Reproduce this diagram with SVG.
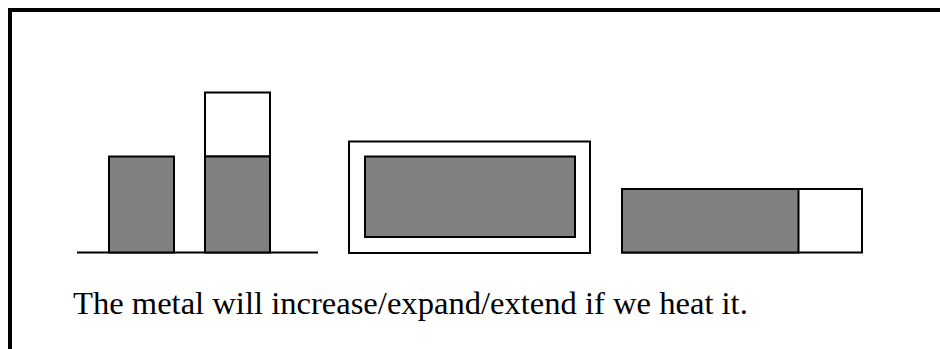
<svg xmlns="http://www.w3.org/2000/svg" width="940" height="349" viewBox="0 0 940 349">
  <style>
    .frame { fill: none; stroke: #000; stroke-width: 4; }
    .edge { stroke: #000; stroke-width: 2; }
    .metal { fill: #808080; stroke: #000; stroke-width: 2; }
    .gap { fill: #fff; stroke: #000; stroke-width: 2; }
    .caption { font-family: "Liberation Serif", "Times New Roman", serif; font-size: 32.6px; fill: #000; }
  </style>
  <rect width="940" height="349" fill="#fff"/>
  <!-- open frame: top and left edges -->
  <path class="frame" d="M10 349 V10 H940"/>

  <!-- ground line under the bars -->
  <g id="connectors">
    <line class="edge" x1="77" y1="252.5" x2="318" y2="252.5"/>
  </g>

  <!-- cold bar -->
  <g id="bar-cold">
    <rect class="metal" x="109" y="156.5" width="65" height="96"/>
  </g>

  <!-- heated bar: same bar plus added length on top -->
  <g id="bar-heated">
    <rect class="gap" x="205" y="92.5" width="65" height="64"/>
    <rect class="metal" x="205" y="156.5" width="65" height="96"/>
  </g>

  <!-- plate expanding in every direction -->
  <g id="plate">
    <rect class="gap" x="349" y="141.5" width="241" height="111.5"/>
    <rect class="metal" x="365" y="156.5" width="210" height="80.5"/>
  </g>

  <!-- rod extending to one side -->
  <g id="rod">
    <rect class="gap" x="622" y="189" width="240" height="63.5"/>
    <rect class="metal" x="622" y="189" width="176.5" height="63.5"/>
  </g>

  <g id="caption">
    <text class="caption" x="73" y="314">The metal will increase/expand/extend if we heat it.</text>
  </g>
</svg>
